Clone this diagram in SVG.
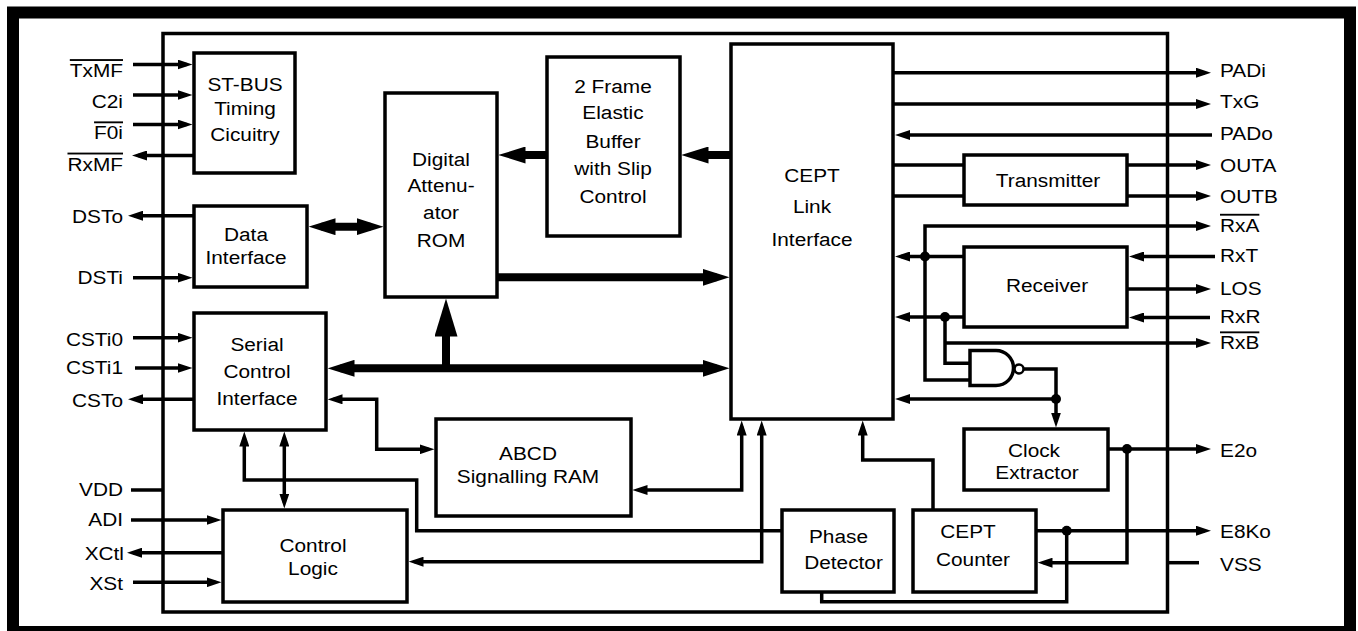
<svg xmlns="http://www.w3.org/2000/svg" width="1358" height="631" viewBox="0 0 1358 631">
<style>
.bx{fill:#fff;stroke:#000;stroke-width:3.5}
.ln{fill:none;stroke:#000;stroke-width:3.5;stroke-linejoin:miter}
.bus{fill:none;stroke:#000;stroke-width:8}
.dot{fill:#000}
text{font-family:"Liberation Sans",Arial,Helvetica,sans-serif;font-size:18.6px;fill:#000}
.c{text-anchor:middle}
.r{text-anchor:end}
.o{text-decoration:overline}
</style>
<defs>
<marker id="a" markerUnits="userSpaceOnUse" markerWidth="15" markerHeight="10" refX="9" refY="5" orient="auto-start-reverse"><path d="M0,0L15,5L0,10z"/></marker>
<marker id="b" markerUnits="userSpaceOnUse" markerWidth="27" markerHeight="17" refX="14" refY="8.5" orient="auto-start-reverse"><path d="M0,0L27,8.5L0,17z"/></marker>
<marker id="u" markerUnits="userSpaceOnUse" markerWidth="38" markerHeight="23" refX="24" refY="11.5" orient="auto-start-reverse"><path d="M0,0L38,11.5L0,23z"/></marker>
</defs>
<rect width="1358" height="631" fill="#fff"/>
<rect x="13" y="12.5" width="1337" height="619.5" fill="none" stroke="#000" stroke-width="12"/>
<rect id="chip" x="163" y="33.5" width="1004.5" height="578.5" fill="none" stroke="#000" stroke-width="3.5"/>

<g id="connectors">
<!-- left pins -->
<path class="ln" d="M133,64.5H186.5" marker-end="url(#a)"/>
<path class="ln" d="M133,95H186.5" marker-end="url(#a)"/>
<path class="ln" d="M133,124.5H186.5" marker-end="url(#a)"/>
<path class="ln" d="M194,155.5H138" marker-end="url(#a)"/>
<path class="ln" d="M194,215.7H134" marker-end="url(#a)"/>
<path class="ln" d="M133,277.7H186.5" marker-end="url(#a)"/>
<path class="ln" d="M133,337.7H186.5" marker-end="url(#a)"/>
<path class="ln" d="M135,368H186.5" marker-end="url(#a)"/>
<path class="ln" d="M194,399.3H134" marker-end="url(#a)"/>
<path class="ln" d="M131,490H163"/>
<path class="ln" d="M131,520H215.5" marker-end="url(#a)"/>
<path class="ln" d="M223,552.7H133" marker-end="url(#a)"/>
<path class="ln" d="M133,582.3H215.5" marker-end="url(#a)"/>
<!-- right pins -->
<path class="ln" d="M893,72.7H1205" marker-end="url(#a)"/>
<path class="ln" d="M893,104H1205" marker-end="url(#a)"/>
<path class="ln" d="M1212,135H901" marker-end="url(#a)"/>
<path class="ln" d="M893,165H964M893,196H964"/>
<path class="ln" d="M1127,165H1205" marker-end="url(#a)"/>
<path class="ln" d="M1127,196H1205" marker-end="url(#a)"/>
<path class="ln" d="M970,380H925V226H1205" marker-end="url(#a)"/>
<path class="ln" d="M1215,256.5H1135" marker-end="url(#a)"/>
<path class="ln" d="M964,256.5H901" marker-end="url(#a)"/>
<path class="ln" d="M1127,289H1205" marker-end="url(#a)"/>
<path class="ln" d="M1210,317.5H1135" marker-end="url(#a)"/>
<path class="ln" d="M964,317H901" marker-end="url(#a)"/>
<path class="ln" d="M945,317V363.3H970"/>
<path class="ln" d="M945,343H1205" marker-end="url(#a)"/>
<path class="ln" d="M1024,369H1056V421.5" marker-end="url(#a)"/>
<path class="ln" d="M1056,399H901" marker-end="url(#a)"/>
<path class="ln" d="M1108,449H1205" marker-end="url(#a)"/>
<path class="ln" d="M1127,449V562.7H1043.5" marker-end="url(#a)"/>
<path class="ln" d="M1036,530.7H1205" marker-end="url(#a)"/>
<path class="ln" d="M1066.7,530.7V601.7H821.7V592"/>
<path class="ln" d="M933,510V460H862.7V426.5" marker-end="url(#a)"/>
<path class="ln" d="M1167.5,562.7H1199"/>
<path class="ln" d="M782,530.7H416.7V480H244.3V437.5" marker-end="url(#a)"/>
<path class="ln" d="M761.7,426.5V561.7H414.5" marker-start="url(#a)" marker-end="url(#a)"/>
<path class="ln" d="M638.5,490H741.7V426.5" marker-start="url(#a)" marker-end="url(#a)"/>
<path class="ln" d="M333.5,399.3H376.7V449.3H428.5" marker-start="url(#a)" marker-end="url(#a)"/>
<path class="ln" d="M284.3,437.5V502.5" marker-start="url(#a)" marker-end="url(#a)"/>
<!-- buses -->
<path class="bus" d="M321.5,226.7H370.5" marker-start="url(#b)" marker-end="url(#b)"/>
<path class="bus" d="M497,277.3H716.5" marker-end="url(#b)"/>
<path class="bus" d="M340.5,368.3H716.5" marker-start="url(#b)" marker-end="url(#b)"/>
<path class="bus" d="M446,368.3V312.5" marker-end="url(#u)"/>
<path class="bus" d="M731,155H694.5" marker-end="url(#b)"/>
<path class="bus" d="M547,155H511.5" marker-end="url(#b)"/>
<!-- junction dots -->
<circle class="dot" cx="925" cy="256.5" r="5"/>
<circle class="dot" cx="945" cy="317" r="5"/>
<circle class="dot" cx="1056" cy="399" r="5"/>
<circle class="dot" cx="1127" cy="449" r="5"/>
<circle class="dot" cx="1066.7" cy="530.7" r="5"/>
</g>

<g id="nand">
<path class="bx" d="M970,350.5H996A17.5,17.5 0 0 1 996,385.5H970Z"/>
<circle cx="1019" cy="369" r="4.5" fill="#fff" stroke="#000" stroke-width="2.5"/>
</g>

<g id="stbus"><rect class="bx" x="194" y="53" width="101" height="120"/>
<text class="c" transform="matrix(1.12 0 0 1 245 90.5)">ST-BUS</text>
<text class="c" transform="matrix(1.12 0 0 1 245 115)">Timing</text>
<text class="c" transform="matrix(1.12 0 0 1 245 140.5)">Cicuitry</text></g>

<g id="data"><rect class="bx" x="194" y="206" width="113" height="81"/>
<text class="c" transform="matrix(1.12 0 0 1 246 240.7)">Data</text>
<text class="c" transform="matrix(1.12 0 0 1 246 264.3)">Interface</text></g>

<g id="serial"><rect class="bx" x="194" y="313" width="132" height="117"/>
<text class="c" transform="matrix(1.12 0 0 1 257 350.7)">Serial</text>
<text class="c" transform="matrix(1.12 0 0 1 257 378.3)">Control</text>
<text class="c" transform="matrix(1.12 0 0 1 257 405)">Interface</text></g>

<g id="rom"><rect class="bx" x="385" y="93" width="112" height="204"/>
<text class="c" transform="matrix(1.12 0 0 1 441 165.7)">Digital</text>
<text class="c" transform="matrix(1.12 0 0 1 441 192.3)">Attenu-</text>
<text class="c" transform="matrix(1.12 0 0 1 441 219)">ator</text>
<text class="c" transform="matrix(1.12 0 0 1 441 246.7)">ROM</text></g>

<g id="elastic"><rect class="bx" x="547" y="57" width="133" height="179"/>
<text class="c" transform="matrix(1.12 0 0 1 613 92.7)">2 Frame</text>
<text class="c" transform="matrix(1.12 0 0 1 613 119.3)">Elastic</text>
<text class="c" transform="matrix(1.12 0 0 1 613 147.5)">Buffer</text>
<text class="c" transform="matrix(1.12 0 0 1 613 175)">with Slip</text>
<text class="c" transform="matrix(1.12 0 0 1 613 202.7)">Control</text></g>

<g id="cept"><rect class="bx" x="731" y="44" width="162" height="375"/>
<text class="c" transform="matrix(1.12 0 0 1 812 181.7)">CEPT</text>
<text class="c" transform="matrix(1.12 0 0 1 812 213.3)">Link</text>
<text class="c" transform="matrix(1.12 0 0 1 812 246)">Interface</text></g>

<g id="transmitter"><rect class="bx" x="964" y="155" width="163" height="50"/>
<text class="c" transform="matrix(1.12 0 0 1 1048 186.7)">Transmitter</text></g>

<g id="receiver"><rect class="bx" x="964" y="247" width="163" height="80"/>
<text class="c" transform="matrix(1.12 0 0 1 1047 291.7)">Receiver</text></g>

<g id="clock"><rect class="bx" x="964" y="429" width="144" height="61"/>
<text class="c" transform="matrix(1.12 0 0 1 1034 456.7)">Clock</text>
<text class="c" transform="matrix(1.12 0 0 1 1037 479.3)">Extractor</text></g>

<g id="counter"><rect class="bx" x="913" y="510" width="123" height="82"/>
<text class="c" transform="matrix(1.12 0 0 1 968 538.3)">CEPT</text>
<text class="c" transform="matrix(1.12 0 0 1 973 566)">Counter</text></g>

<g id="phase"><rect class="bx" x="782" y="510" width="112" height="82"/>
<text class="c" transform="matrix(1.12 0 0 1 838.5 543.3)">Phase</text>
<text class="c" transform="matrix(1.12 0 0 1 843.5 569.3)">Detector</text></g>

<g id="abcd"><rect class="bx" x="436" y="419" width="195" height="97"/>
<text class="c" transform="matrix(1.12 0 0 1 528 460)">ABCD</text>
<text class="c" transform="matrix(1.12 0 0 1 528 483.3)">Signalling RAM</text></g>

<g id="control"><rect class="bx" x="223" y="510" width="184" height="92"/>
<text class="c" transform="matrix(1.12 0 0 1 313 552.3)">Control</text>
<text class="c" transform="matrix(1.12 0 0 1 313 575)">Logic</text></g>

<g id="pins-left">
<text class="r o" transform="matrix(1.12 0 0 1 123 77)">TxMF</text>
<text class="r" transform="matrix(1.12 0 0 1 123 107.5)">C2i</text>
<text class="r o" transform="matrix(1.12 0 0 1 123 139.3)">F0i</text>
<text class="r o" transform="matrix(1.12 0 0 1 123 170.5)">RxMF</text>
<text class="r" transform="matrix(1.12 0 0 1 123 222.5)">DSTo</text>
<text class="r" transform="matrix(1.12 0 0 1 123 284.3)">DSTi</text>
<text class="r" transform="matrix(1.12 0 0 1 123 345.5)">CSTi0</text>
<text class="r" transform="matrix(1.12 0 0 1 123 374)">CSTi1</text>
<text class="r" transform="matrix(1.12 0 0 1 123 406.5)">CSTo</text>
<text class="r" transform="matrix(1.12 0 0 1 123 496)">VDD</text>
<text class="r" transform="matrix(1.12 0 0 1 123 526)">ADI</text>
<text class="r" transform="matrix(1.12 0 0 1 124 559.5)">XCtl</text>
<text class="r" transform="matrix(1.12 0 0 1 123 590)">XSt</text>
</g>

<g id="pins-right">
<text transform="matrix(1.12 0 0 1 1220 76.7)">PADi</text>
<text transform="matrix(1.12 0 0 1 1220 108.3)">TxG</text>
<text transform="matrix(1.12 0 0 1 1220 140)">PADo</text>
<text transform="matrix(1.12 0 0 1 1220 171.7)">OUTA</text>
<text transform="matrix(1.12 0 0 1 1220 203.3)">OUTB</text>
<text class="o" transform="matrix(1.12 0 0 1 1220 231.7)">RxA</text>
<text transform="matrix(1.12 0 0 1 1220 262)">RxT</text>
<text transform="matrix(1.12 0 0 1 1220 295)">LOS</text>
<text transform="matrix(1.12 0 0 1 1220 323.3)">RxR</text>
<text class="o" transform="matrix(1.12 0 0 1 1220 349.3)">RxB</text>
<text transform="matrix(1.12 0 0 1 1220 456.5)">E2o</text>
<text transform="matrix(1.12 0 0 1 1220 538)">E8Ko</text>
<text transform="matrix(1.12 0 0 1 1220 570.5)">VSS</text>
</g>
</svg>
